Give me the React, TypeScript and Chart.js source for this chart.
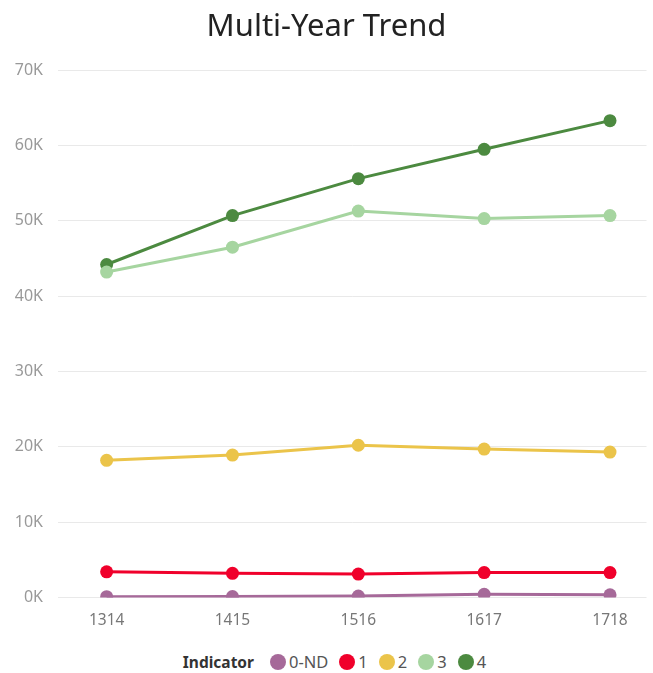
import React, { useEffect, useRef } from "react";
import { Chart, registerables } from "chart.js";

Chart.register(...registerables);

const categories = ["1314", "1415", "1516", "1617", "1718"];
const seriesNames = ["0-ND", "1", "2", "3", "4"];
const series0ND = [100, 120, 180, 420, 350];
const series1 = [3400, 3200, 3100, 3300, 3300];
const series2 = [18200, 18900, 20200, 19700, 19300];
const series3 = [43200, 46500, 51300, 50300, 50700];
const series4 = [44200, 50700, 55600, 59500, 63300];
const colors = ["#A66999", "#F0002B", "#EBC44A", "#A6D5A0", "#4C8A40"];
const yTicks = [0, 10000, 20000, 30000, 40000, 50000, 60000, 70000];

const FONT = "'Noto Sans', 'Open Sans', sans-serif";

export default function App() {
  const ref = useRef<HTMLCanvasElement>(null);
  useEffect(() => {
    document.body.style.margin = "0";
    const all = [series0ND, series1, series2, series3, series4];
    const chart = new Chart(ref.current!, {
      type: "line",
      data: {
        datasets: all.map((vals, si) => ({
          label: seriesNames[si],
          data: vals.map((v, i) => ({ x: i, y: v })),
          borderColor: colors[si],
          backgroundColor: colors[si],
          borderWidth: 3,
          pointRadius: 6.5,
          pointHoverRadius: 6.5,
          pointBorderWidth: 0,
          tension: 0,
        })),
      },
      options: {
        animation: false,
        responsive: false,
        layout: { padding: { top: 0, right: 0, left: 0, bottom: 0 } },
        plugins: {
          legend: { display: false },
          tooltip: { enabled: false },
          title: {
            display: true,
            text: "Multi-Year Trend",
            color: "#222",
            font: { family: FONT, size: 31, weight: "normal" },
            padding: { top: 9, bottom: 24 },
          },
        },
        scales: {
          x: {
            type: "linear",
            min: -0.3865,
            max: 4.29,
            afterBuildTicks: (axis: any) => {
              axis.ticks = categories.map((_, i) => ({ value: i }));
            },
            afterFit: (axis: any) => {
              axis.paddingLeft = 0;
              axis.paddingRight = 0;
            },
            ticks: {
              color: "#777",
              font: { family: FONT, size: 15.5 },
              callback: (v: any) => categories[v] ?? "",
              padding: 6,
            },
            grid: { display: false },
            border: { display: false },
          },
          y: {
            min: 0,
            max: 70000,
            afterBuildTicks: (axis: any) => {
              axis.ticks = yTicks.map((v) => ({ value: v }));
            },
            afterFit: (axis: any) => {
              axis.width = 58;
            },
            ticks: {
              color: "#999",
              font: { family: FONT, size: 16 },
              padding: 15,
              callback: (v: any) => `${Math.round(v / 1000)}K`,
            },
            grid: { color: "#E9E9E9", lineWidth: 1, drawTicks: false },
            border: { display: false },
          },
        },
      },
    });
    return () => chart.destroy();
  }, []);

  return (
    <div style={{ width: 653, height: 673, position: "relative", background: "#fff" }}>
      <canvas ref={ref} width={653} height={636} style={{ display: "block" }} />
      <div
        style={{
          position: "absolute",
          top: 652,
          left: 8,
          width: 653,
          display: "flex",
          justifyContent: "center",
          alignItems: "center",
          fontFamily: FONT,
          fontSize: 16.5,
          color: "#555",
          lineHeight: "20px",
        }}
      >
        <span style={{ fontWeight: "bold", color: "#333", marginRight: 16, fontSize: 15.5 }}>Indicator</span>
        {seriesNames.map((n, i) => (
          <span
            key={n}
            style={{ display: "flex", alignItems: "center", marginRight: i < seriesNames.length - 1 ? 11 : 0 }}
          >
            <span
              style={{
                width: 16,
                height: 16,
                borderRadius: "50%",
                background: colors[i],
                display: "inline-block",
                marginRight: 3,
              }}
            />
            {n}
          </span>
        ))}
      </div>
    </div>
  );
}
